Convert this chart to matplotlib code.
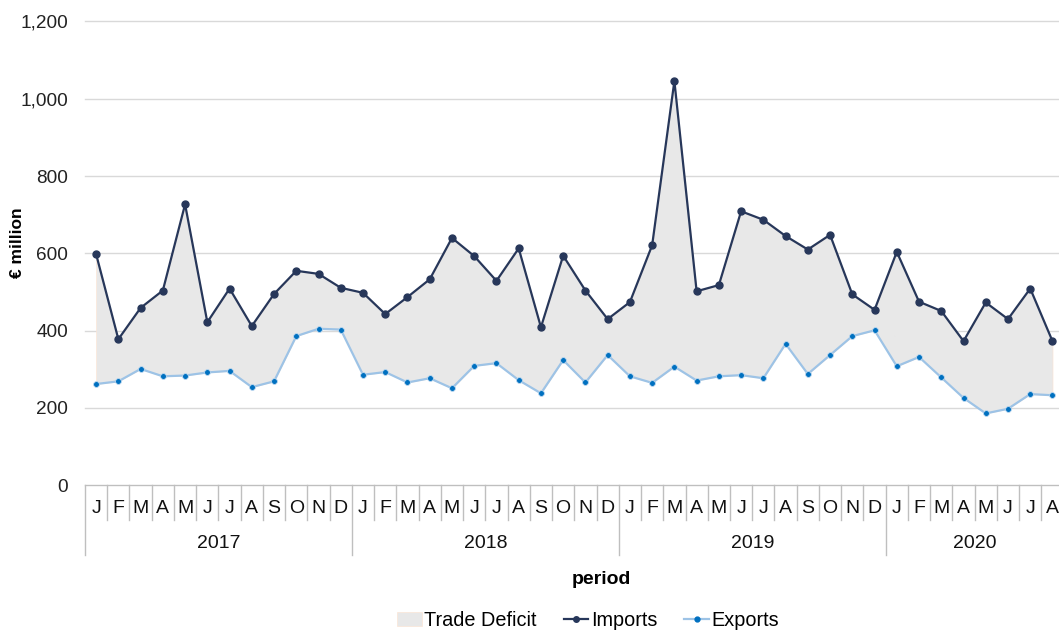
import numpy as np
import matplotlib
matplotlib.use("Agg")
import matplotlib.pyplot as plt
from matplotlib.ticker import FuncFormatter
from matplotlib.patches import Patch
from matplotlib.lines import Line2D

plt.rcParams['font.family'] = ['Liberation Sans', 'DejaVu Sans']

# monthly data, Jan 2017 - Aug 2020 (EUR million)
years = ['2017', '2018', '2019', '2020']
months_per_year = [12, 12, 12, 8]
month_letters = ['J', 'F', 'M', 'A', 'M', 'J', 'J', 'A', 'S', 'O', 'N', 'D']

imports = [598, 378, 459, 504, 727, 422, 509, 412, 495, 555, 547, 511,
           498, 443, 487, 533, 640, 593, 529, 613, 409, 594, 504, 430,
           474, 621, 1046, 502, 518, 709, 687, 645, 610, 648, 494, 454,
           604, 475, 451, 373, 473, 430, 509, 373]
exports = [262, 269, 301, 282, 284, 292, 296, 254, 269, 386, 405, 403,
           286, 293, 266, 277, 251, 309, 316, 272, 238, 324, 266, 337,
           282, 265, 307, 271, 282, 285, 277, 366, 288, 337, 386, 401,
           308, 332, 279, 226, 186, 198, 236, 233]

navy = '#27375a'
light_blue = '#9dc3e6'
dot_blue = '#0070c0'
fill_grey = '#e8e8e8'
grid_grey = '#d9d9d9'
axis_grey = '#bfbfbf'

W, H = 1059, 630
fig = plt.figure(figsize=(W / 100, H / 100), dpi=100)

# axes placed in pixel terms (right edge runs past the image as in the original)
left, right, top, bottom = 85, 1063.6, 21.5, 485.3
ax = fig.add_axes([left / W, 1 - bottom / H, (right - left) / W, (bottom - top) / H])

x = np.arange(len(imports))
ax.fill_between(x, exports, imports, color=fill_grey, edgecolor='#fbe5d6', linewidth=0.5, zorder=1)
ax.plot(x, imports, color=navy, lw=1.6, marker='o', ms=5, mec=navy, zorder=3)
ax.plot(x, exports, color=light_blue, lw=1.6, marker='o', ms=4.2, mfc=dot_blue, mec='#bcd7ef',
        mew=0.6, zorder=3)

ax.set_xlim(-0.5, len(imports) - 0.5)
ax.set_ylim(0, 1200)
ax.set_yticks(range(0, 1201, 200))
ax.yaxis.set_major_formatter(FuncFormatter(lambda v, p: f'{int(v):,}'))
ax.grid(axis='y', color=grid_grey, lw=1)
for gl in ax.get_ygridlines():
    gl.set_clip_on(False)
ax.set_axisbelow(True)
ax.tick_params(axis='y', length=0, pad=12, labelsize=13.7, colors='#222222')
ax.set_xticks([])
for s in ['top', 'right', 'left']:
    ax.spines[s].set_visible(False)
ax.spines['bottom'].set_color(axis_grey)

# two-level category axis
tr = ax.get_xaxis_transform()
axh = bottom - top
def frac(py):
    return (bottom - py) / axh

i = 0
for yr, n in zip(years, months_per_year):
    ax.plot([i - 0.5, i - 0.5], [0, frac(555)], transform=tr, color=axis_grey, lw=1, clip_on=False)
    for k in range(n):
        if k > 0:
            ax.plot([i + k - 0.5, i + k - 0.5], [0, frac(520)], transform=tr, color=axis_grey,
                    lw=1, clip_on=False)
        ax.text(i + k, frac(508.5), month_letters[k], transform=tr, ha='center', va='center',
                fontsize=14, color='#111111')
    ax.text(i + (n - 1) / 2, frac(543.5), yr, transform=tr, ha='center', va='center',
            fontsize=14, color='#111111')
    i += n
ax.plot([i - 0.5, i - 0.5], [0, frac(555)], transform=tr, color=axis_grey, lw=1, clip_on=False)

fig.text(18 / W, 1 - 243 / H, '€ million', rotation=90, ha='center', va='center',
         fontsize=12.5, fontweight='bold')
fig.text(601 / W, 1 - 580 / H, 'period', ha='center', va='center', fontsize=14,
         fontweight='bold')

handles = [Patch(facecolor=fill_grey, edgecolor='#fbe5d6', lw=0.5, label='Trade Deficit'),
           Line2D([], [], color=navy, lw=1.6, marker='o', ms=4, label='Imports'),
           Line2D([], [], color=light_blue, lw=1.6, marker='o', ms=3.5, mfc=dot_blue,
                  mec=dot_blue, label='Exports')]
fig.legend(handles=handles, loc='center', bbox_to_anchor=(588 / W, 1 - 620 / H), ncol=3,
           frameon=False, fontsize=14.3, handlelength=1.25, handletextpad=0.12,
           columnspacing=1.36)

fig.savefig('out.png', dpi=100)
